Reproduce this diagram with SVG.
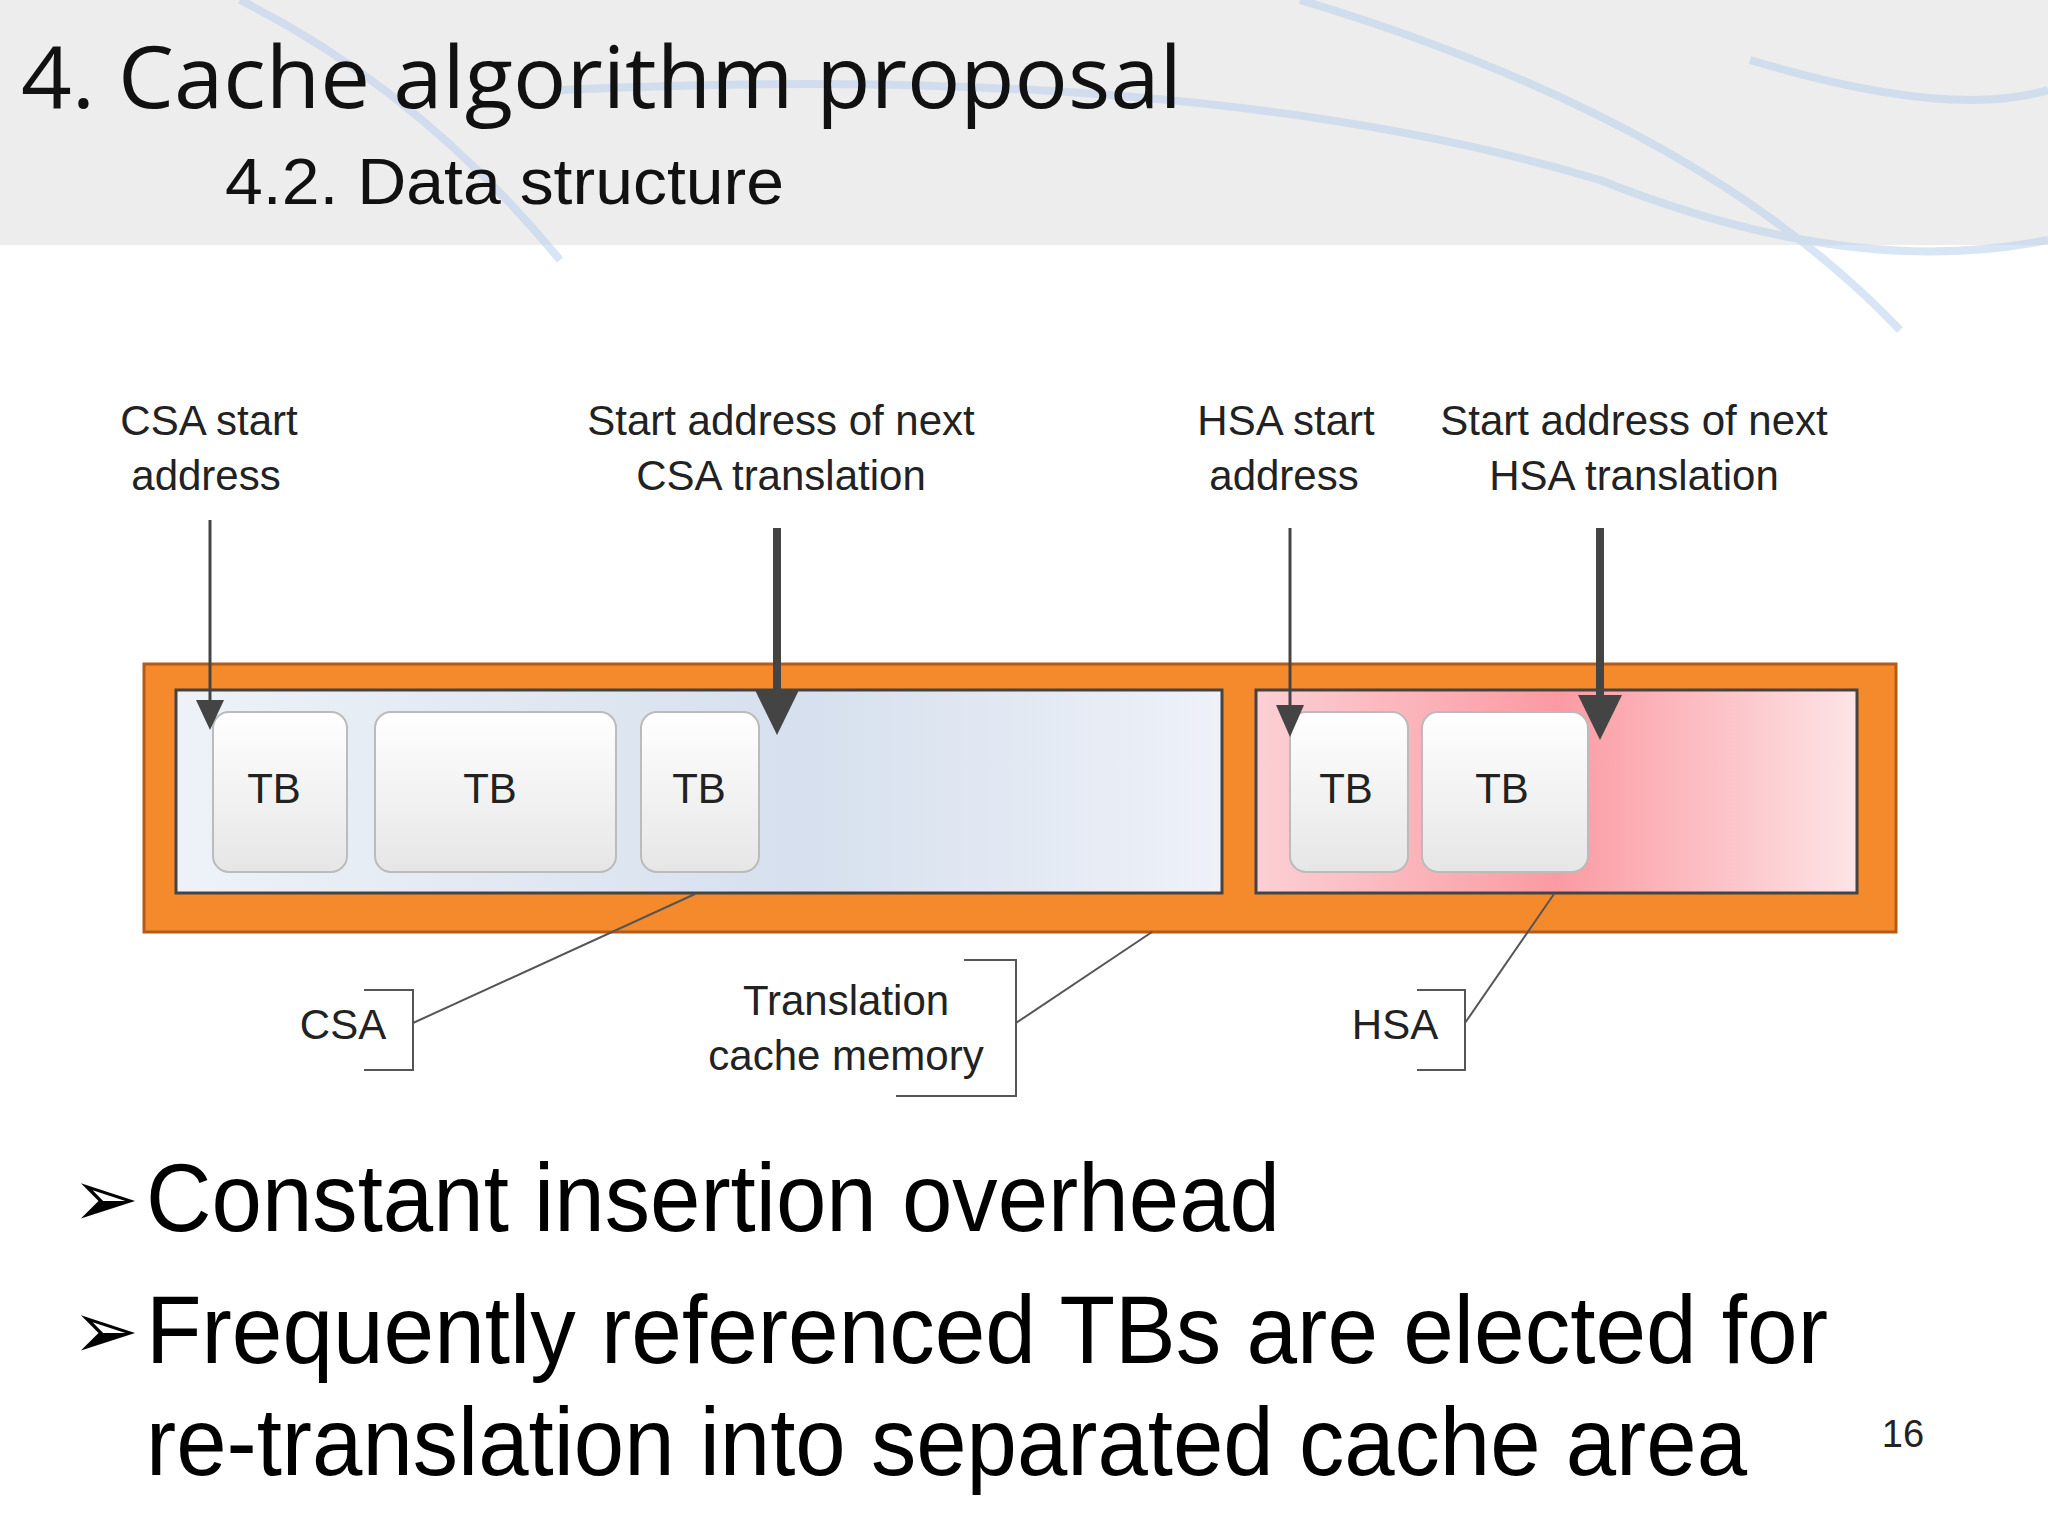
<svg xmlns="http://www.w3.org/2000/svg" width="2048" height="1536" viewBox="0 0 2048 1536">
<defs>
<linearGradient id="gBlue" x1="0" y1="0" x2="1" y2="0"><stop offset="0" stop-color="#eef2f8"/><stop offset="0.6" stop-color="#d6e0ee"/><stop offset="1" stop-color="#eef1f8"/></linearGradient>
<linearGradient id="gPink" x1="0" y1="0" x2="1" y2="0"><stop offset="0" stop-color="#fbd0d4"/><stop offset="0.5" stop-color="#fb9aa2"/><stop offset="1" stop-color="#fde4e6"/></linearGradient>
<linearGradient id="gTB" x1="0" y1="0" x2="0" y2="1"><stop offset="0" stop-color="#ffffff"/><stop offset="1" stop-color="#e6e6e6"/></linearGradient>
<style>
.lbl{font-family:"Liberation Sans",Arial,sans-serif;font-size:42px;fill:#222;text-anchor:middle}
.big{font-family:"Liberation Sans",Arial,sans-serif;font-size:96px;fill:#000}
.blt{font-family:"DejaVu Sans",sans-serif;font-size:80px;fill:#000}
.tb{fill:url(#gTB);stroke:#bbb;stroke-width:2}
.thin{stroke:#444;stroke-width:3;fill:none}
.thick{stroke:#444;stroke-width:8;fill:none}
.call{stroke:#555;stroke-width:2;fill:none}
</style>
</defs>
<rect width="2048" height="1536" fill="#fff"/>
<rect width="2048" height="245" fill="#ededed"/>
<g fill="none" stroke="#b9d0ee" stroke-width="8" opacity="0.55">
<path d="M240 0 Q420 90 560 260"/>
<path d="M560 90 Q1200 60 1600 180 Q1850 280 2048 240"/>
<path d="M1300 0 Q1700 120 1900 330"/>
<path d="M1750 60 Q1950 120 2048 90"/>
</g>
<text x="21" y="108" font-family="Open Sans,sans-serif" font-size="86" fill="#111" textLength="1161" lengthAdjust="spacingAndGlyphs">4. Cache algorithm proposal</text>
<text x="225" y="204" font-family="Liberation Sans,Arial,sans-serif" font-size="64" fill="#111" textLength="559" lengthAdjust="spacingAndGlyphs">4.2. Data structure</text>

<g id="labels">
<text class="lbl" x="209" y="435">CSA start</text><text class="lbl" x="206" y="490">address</text>
<text class="lbl" x="781" y="435">Start address of next</text><text class="lbl" x="781" y="490">CSA translation</text>
<text class="lbl" x="1286" y="435">HSA start</text><text class="lbl" x="1284" y="490">address</text>
<text class="lbl" x="1634" y="435">Start address of next</text><text class="lbl" x="1634" y="490">HSA translation</text>
</g>

<g id="memory">
<rect x="144" y="664" width="1752" height="268" fill="#f58a2d" stroke="#b65a15" stroke-width="3"/>
<rect x="176" y="690" width="1046" height="203" fill="url(#gBlue)" stroke="#444" stroke-width="3"/>
<rect x="1256" y="690" width="601" height="203" fill="url(#gPink)" stroke="#444" stroke-width="3"/>
</g>
<g id="tbs">
<g id="tb1"><rect class="tb" x="213" y="712" width="134" height="160" rx="16"/><text class="lbl" x="274" y="803">TB</text></g>
<g id="tb2"><rect class="tb" x="375" y="712" width="241" height="160" rx="16"/><text class="lbl" x="490" y="803">TB</text></g>
<g id="tb3"><rect class="tb" x="641" y="712" width="118" height="160" rx="16"/><text class="lbl" x="699" y="803">TB</text></g>
<g id="tb4"><rect class="tb" x="1290" y="712" width="118" height="160" rx="16"/><text class="lbl" x="1346" y="803">TB</text></g>
<g id="tb5"><rect class="tb" x="1422" y="712" width="166" height="160" rx="16"/><text class="lbl" x="1502" y="803">TB</text></g>
</g>

<g id="connectors">
<line class="thin" x1="210" y1="520" x2="210" y2="705"/><polygon points="196,700 224,700 210,730" fill="#444"/>
<line class="thick" x1="777" y1="528" x2="777" y2="700"/><polygon points="755,690 799,690 777,735" fill="#444"/>
<line class="thin" x1="1290" y1="528" x2="1290" y2="712"/><polygon points="1276,705 1304,705 1290,737" fill="#444"/>
<line class="thick" x1="1600" y1="528" x2="1600" y2="700"/><polygon points="1578,695 1622,695 1600,740" fill="#444"/>
<polyline class="call" points="364,990 413,990 413,1070 364,1070"/>
<line class="call" x1="413" y1="1023" x2="695" y2="894"/>
<polyline class="call" points="964,960 1016,960 1016,1096 896,1096"/>
<line class="call" x1="1016" y1="1023" x2="1152" y2="932"/>
<polyline class="call" points="1417,990 1465,990 1465,1070 1417,1070"/>
<line class="call" x1="1465" y1="1023" x2="1554" y2="894"/>
</g>
<g id="bottomlabels">
<text class="lbl" x="343" y="1039">CSA</text>
<text class="lbl" x="846" y="1015">Translation</text>
<text class="lbl" x="846" y="1070">cache memory</text>
<text class="lbl" x="1395" y="1039">HSA</text>
</g>

<g id="bullets">
<text class="blt" x="72" y="1226">➢</text>
<text class="big" x="146" y="1231" textLength="1134" lengthAdjust="spacingAndGlyphs">Constant insertion overhead</text>
<text class="blt" x="72" y="1358">➢</text>
<text class="big" x="146" y="1363" textLength="1682" lengthAdjust="spacingAndGlyphs">Frequently referenced TBs are elected for</text>
<text class="big" x="146" y="1475" textLength="1601" lengthAdjust="spacingAndGlyphs">re-translation into separated cache area</text>
<text x="1903" y="1447" font-family="Liberation Sans,Arial,sans-serif" font-size="38" fill="#222" text-anchor="middle">16</text>
</g>
</svg>
